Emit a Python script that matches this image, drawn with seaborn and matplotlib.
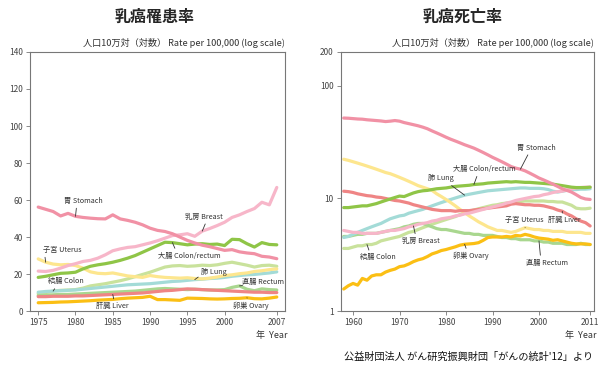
import numpy as np
import pandas as pd
import matplotlib
matplotlib.use("Agg")
import matplotlib.pyplot as plt
import seaborn as sns

sns.set_theme(style="white")
plt.rcParams["font.family"] = ["Noto Sans CJK JP", "DejaVu Sans"]

# ---- incidence (left), 1975-2007 ----
years_inc = list(range(1975, 2008))
stomach_inc = [56.2, 55.0, 53.8, 51.4, 52.8, 51.2, 50.6, 50.2, 49.9, 49.8, 52.0, 49.8, 49.0, 48.0, 46.6, 44.8,
               43.6, 43.0, 41.8, 40.0, 38.2, 36.8, 35.6, 34.8, 33.8, 32.8, 33.2, 32.0, 31.4, 31.0, 29.6, 29.2, 28.3]
breast_inc = [21.6, 21.4, 22.0, 23.2, 24.6, 25.6, 26.8, 27.4, 28.6, 30.4, 32.6, 33.6, 34.4, 34.8, 35.8, 36.8,
              38.0, 39.4, 40.8, 41.2, 41.8, 40.4, 43.2, 44.6, 46.2, 48.0, 50.6, 52.0, 53.8, 55.4, 58.8, 57.4, 66.8]
colrec_inc = [18.2, 18.8, 19.6, 20.4, 20.6, 21.0, 22.8, 24.2, 25.0, 25.6, 26.4, 27.4, 28.6, 30.0, 31.8, 33.6,
              35.4, 37.2, 37.0, 36.4, 35.8, 36.2, 36.4, 36.0, 36.2, 35.4, 38.8, 38.6, 36.4, 34.6, 37.0, 36.0, 35.8]
uterus_inc = [28.2, 26.4, 25.4, 25.0, 25.2, 24.6, 23.2, 21.2, 20.4, 20.2, 20.6, 19.8, 19.0, 18.6, 18.2, 19.2,
              18.6, 18.2, 18.0, 17.8, 18.0, 17.6, 17.4, 17.8, 18.4, 19.2, 19.6, 20.2, 20.6, 21.4, 21.8, 22.4, 22.8]
colon_inc = [9.4, 10.0, 10.8, 11.2, 11.4, 11.6, 12.4, 13.6, 14.2, 14.8, 15.6, 16.4, 17.4, 18.6, 19.8, 21.0,
             22.4, 23.8, 24.4, 24.6, 24.2, 24.4, 24.8, 24.6, 25.0, 25.8, 26.4, 25.6, 24.8, 23.8, 24.6, 24.8, 24.2]
lung_inc = [10.2, 10.6, 10.8, 11.0, 11.2, 11.4, 11.8, 12.2, 12.6, 13.0, 13.4, 13.8, 14.2, 14.4, 14.6, 14.8,
            15.2, 15.6, 16.0, 16.2, 16.6, 17.0, 17.2, 17.6, 17.8, 18.2, 18.8, 19.2, 19.6, 19.8, 20.2, 20.6, 21.2]
rectum_inc = [8.4, 8.6, 8.8, 9.0, 9.0, 9.2, 9.4, 9.6, 9.8, 10.0, 10.2, 10.4, 10.6, 10.8, 11.2, 11.6,
              12.0, 12.2, 12.0, 11.8, 11.6, 11.8, 11.6, 11.4, 11.4, 11.6, 12.8, 13.6, 11.8, 11.0, 12.0, 11.6, 11.4]
liver_inc = [7.8, 7.8, 8.0, 8.0, 8.0, 8.2, 8.2, 8.4, 8.6, 8.8, 9.0, 9.2, 9.4, 9.6, 9.8, 10.2,
             10.6, 11.0, 11.2, 11.6, 12.0, 11.8, 11.6, 11.4, 11.2, 11.0, 10.8, 10.6, 10.4, 10.2, 10.2, 10.0, 10.0]
ovary_inc = [4.5, 4.6, 4.7, 4.9, 5.0, 5.2, 5.4, 5.6, 5.9, 6.1, 6.3, 6.7, 7.0, 7.2, 7.4, 8.0,
             6.2, 6.2, 6.0, 5.8, 7.0, 6.9, 6.8, 6.6, 6.5, 6.6, 6.8, 6.9, 7.2, 6.7, 6.6, 7.0, 7.6]

# ---- mortality (right), 1958-2011 ----
years_mort = list(range(1958, 2012))
stomach_mort = [51.8, 51.6, 51.2, 50.8, 50.6, 50.0, 49.6, 49.2, 48.8, 48.2, 48.6, 49.2, 48.6, 47.2, 46.2, 45.2,
                44.2, 43.0, 41.6, 39.8, 38.2, 36.6, 35.0, 33.6, 32.4, 31.2, 30.0, 29.0, 28.0, 26.8, 25.6, 24.4,
                23.2, 22.2, 21.2, 20.2, 19.2, 18.6, 18.2, 17.6, 16.8, 16.0, 15.2, 14.6, 14.0, 13.4, 12.8, 12.2,
                11.8, 11.4, 10.8, 10.2, 9.9, 9.8]
uterus_mort = [22.3, 21.8, 21.2, 20.6, 20.0, 19.4, 18.8, 18.2, 17.6, 17.0, 16.6, 16.0, 15.4, 14.8, 14.2, 13.6,
               13.0, 12.6, 12.2, 11.8, 11.0, 10.4, 9.8, 9.2, 8.6, 8.0, 7.5, 7.0, 6.6, 6.2, 5.9, 5.6,
               5.4, 5.2, 5.2, 5.1, 5.0, 5.1, 5.3, 5.5, 5.4, 5.3, 5.3, 5.2, 5.2, 5.1, 5.1, 5.1,
               5.0, 5.0, 5.0, 5.0, 4.9, 4.9]
colrec_mort = [8.3, 8.3, 8.4, 8.5, 8.6, 8.6, 8.8, 9.0, 9.3, 9.6, 9.9, 10.2, 10.5, 10.4, 10.8, 11.2,
               11.5, 11.7, 11.8, 12.0, 12.2, 12.3, 12.4, 12.6, 12.8, 12.9, 13.0, 13.1, 13.3, 13.4, 13.5, 13.7,
               13.8, 13.9, 14.0, 14.1, 14.0, 14.1, 14.0, 13.9, 13.9, 13.8, 13.7, 13.6, 13.5, 13.4, 13.2, 13.0,
               12.8, 12.6, 12.5, 12.5, 12.5, 12.6]
lung_mort = [4.5, 4.6, 4.8, 5.0, 5.2, 5.4, 5.6, 5.8, 6.0, 6.3, 6.6, 6.8, 7.0, 7.1, 7.4, 7.6,
             7.8, 8.0, 8.3, 8.6, 8.9, 9.2, 9.5, 9.8, 10.1, 10.4, 10.7, 10.9, 11.1, 11.3, 11.5, 11.7,
             11.8, 11.9, 12.0, 12.1, 12.2, 12.3, 12.4, 12.4, 12.3, 12.3, 12.3, 12.2, 12.0, 11.6, 11.4, 11.6,
             11.8, 12.0, 12.0, 12.1, 12.1, 12.2]
breast_mort = [5.2, 5.1, 5.0, 5.0, 4.9, 4.9, 4.9, 4.9, 5.0, 5.1, 5.2, 5.2, 5.3, 5.4, 5.6, 5.7,
               5.9, 6.0, 6.1, 6.3, 6.4, 6.6, 6.7, 6.8, 7.0, 7.1, 7.3, 7.4, 7.6, 7.8, 8.0, 8.2,
               8.4, 8.6, 8.8, 9.1, 9.3, 9.6, 9.8, 10.0, 10.2, 10.4, 10.5, 10.8, 11.0, 11.3, 11.5, 11.6,
               11.9, 12.2, 12.4, 12.5, 12.6, 12.6]
liver_mort = [11.6, 11.5, 11.3, 11.0, 10.8, 10.6, 10.5, 10.3, 10.2, 10.0, 9.8, 9.6, 9.5, 9.3, 9.1, 8.8,
              8.6, 8.4, 8.2, 8.0, 7.9, 7.8, 7.8, 7.8, 7.7, 7.8, 7.8, 7.8, 7.9, 8.0, 8.1, 8.2,
              8.3, 8.4, 8.5, 8.6, 8.9, 9.0, 8.9, 8.8, 8.8, 8.7, 8.7, 8.6, 8.4, 8.2, 7.9, 7.7,
              7.3, 7.0, 6.6, 6.3, 6.1, 5.7]
colon_mort = [3.6, 3.6, 3.7, 3.8, 3.8, 3.9, 3.9, 4.0, 4.2, 4.3, 4.4, 4.5, 4.6, 4.8, 5.0, 5.1,
              5.3, 5.5, 5.7, 5.9, 6.1, 6.3, 6.5, 6.7, 6.9, 7.2, 7.4, 7.7, 7.9, 8.1, 8.3, 8.5,
              8.7, 8.8, 9.0, 9.1, 9.2, 9.3, 9.4, 9.5, 9.5, 9.5, 9.5, 9.5, 9.4, 9.4, 9.3, 9.3,
              9.0, 8.7, 8.2, 8.1, 8.1, 8.2]
rectum_mort = [4.6, 4.6, 4.7, 4.8, 4.8, 4.9, 4.9, 4.9, 5.0, 5.1, 5.2, 5.3, 5.4, 5.6, 5.7, 5.9,
               6.0, 6.0, 5.8, 5.6, 5.4, 5.3, 5.3, 5.2, 5.1, 5.0, 4.9, 4.9, 4.8, 4.8, 4.7, 4.7,
               4.7, 4.6, 4.5, 4.5, 4.4, 4.4, 4.3, 4.3, 4.3, 4.2, 4.2, 4.1, 4.1, 4.0, 4.0, 4.0,
               3.9, 3.9, 3.9, 4.0, 3.9, 3.9]
ovary_mort = [1.57, 1.68, 1.76, 1.70, 1.95, 1.88, 2.05, 2.10, 2.10, 2.22, 2.30, 2.36, 2.48, 2.52, 2.62, 2.75,
              2.85, 2.92, 3.05, 3.22, 3.32, 3.45, 3.52, 3.62, 3.72, 3.85, 3.92, 3.95, 3.98, 4.05, 4.25, 4.50,
              4.55, 4.55, 4.55, 4.60, 4.55, 4.70, 4.65, 4.80, 4.70, 4.55, 4.45, 4.40, 4.35, 4.25, 4.30, 4.20,
              4.10, 4.00, 3.95, 3.95, 3.95, 3.90]

sites = ["colon", "rectum", "lung", "uterus", "liver", "breast", "colrec", "stomach", "ovary"]
colors = {"stomach": "#f191a5", "breast": "#f7b6c9", "colrec": "#8fc547", "uterus": "#fde68e",
          "colon": "#c9e29c", "lung": "#a3dbd7", "rectum": "#a9d78f", "liver": "#ef8585", "ovary": "#fbbf14"}

inc = {"stomach": stomach_inc, "breast": breast_inc, "colrec": colrec_inc, "uterus": uterus_inc,
       "colon": colon_inc, "lung": lung_inc, "rectum": rectum_inc, "liver": liver_inc, "ovary": ovary_inc}
mort = {"stomach": stomach_mort, "breast": breast_mort, "colrec": colrec_mort, "uterus": uterus_mort,
        "colon": colon_mort, "lung": lung_mort, "rectum": rectum_mort, "liver": liver_mort, "ovary": ovary_mort}


def long_df(years, d):
    rows = []
    for s in sites:
        for y, v in zip(years, d[s]):
            rows.append((s, y, v))
    return pd.DataFrame(rows, columns=["site", "year", "rate"])


fig = plt.figure(figsize=(6.15, 3.85), dpi=100)
ax1 = fig.add_axes([0.0488, 0.192, 0.4146, 0.673])
ax2 = fig.add_axes([0.554, 0.192, 0.412, 0.673])

for ax, years, d in [(ax1, years_inc, inc), (ax2, years_mort, mort)]:
    sns.lineplot(data=long_df(years, d), x="year", y="rate", hue="site", hue_order=sites,
                 palette=colors, linewidth=2.3, legend=False, ax=ax)
    ax.set_xlabel("")
    ax.set_ylabel("")
    for sp in ax.spines.values():
        sp.set_color("#777777")
        sp.set_linewidth(0.8)
    ax.tick_params(axis="both", which="major", direction="out", length=3, width=0.6,
                   color="#777777", labelsize=6, labelcolor="#444444", pad=2,
                   bottom=True, left=True)
    ax.text(1.0, 1.015, "人口10万対（対数） Rate per 100,000 (log scale)", transform=ax.transAxes,
            ha="right", va="bottom", fontsize=6.6, color="#333333")
    ax.text(1.01, -0.075, "年  Year", transform=ax.transAxes, ha="right", va="top",
            fontsize=6.5, color="#333333")

# left axis
ax1.set_xlim(1973.9, 2008.1)
ax1.set_ylim(0, 140)
ax1.set_xticks([1975, 1980, 1985, 1990, 1995, 2000, 2007])
ax1.set_yticks(range(0, 141, 20))

# right axis
ax2.set_yscale("log")
ax2.set_xlim(1957.35, 2011.85)
ax2.set_ylim(1, 200)
ax2.set_xticks([1960, 1970, 1980, 1990, 2000, 2011])
ax2.set_yticks([1, 10, 100, 200])
ax2.set_yticklabels(["1", "10", "100", "200"])
ax2.yaxis.set_minor_locator(matplotlib.ticker.NullLocator())

fig.text(0.252, 0.955, "乳癌罹患率", ha="center", va="center", fontsize=11.5, fontweight="bold")
fig.text(0.752, 0.955, "乳癌死亡率", ha="center", va="center", fontsize=11.5, fontweight="bold")
fig.text(0.965, 0.073, "公益財団法人 がん研究振興財団「がんの統計'12」より", ha="right", va="center",
         fontsize=7.3, color="#111111")


def label(ax, text, tx, ty, site, year, years, d, rel):
    y = d[site][years.index(year)]
    ax.annotate(text, xy=(year, y), xytext=(tx, ty), textcoords="data", fontsize=5.2,
                color="#333333", ha="left", va="center",
                arrowprops=dict(arrowstyle="-", color="#333333", lw=0.6, relpos=rel,
                                shrinkA=0, shrinkB=0))


# left labels
label(ax1, "胃 Stomach", 1978.5, 59.5, "stomach", 1980, years_inc, inc, (0.32, 0))
label(ax1, "乳房 Breast", 1994.7, 51, "breast", 1997, years_inc, inc, (0.57, 0))
label(ax1, "大腸 Colon/rectum", 1991.0, 30, "colrec", 1993, years_inc, inc, (0.3, 1))
label(ax1, "子宮 Uterus", 1975.6, 33, "uterus", 1976, years_inc, inc, (0.05, 0))
label(ax1, "結腸 Colon", 1976.3, 16, "colon", 1977, years_inc, inc, (0.25, 0))
label(ax1, "肺 Lung", 1996.9, 21, "lung", 1996, years_inc, inc, (0, 0.2))
label(ax1, "直腸 Rectum", 2002.4, 15.5, "rectum", 2002, years_inc, inc, (0, 0.1))
label(ax1, "肝臓 Liver", 1982.8, 2.7, "liver", 1985, years_inc, inc, (0.55, 1))
label(ax1, "卵巣 Ovary", 2001.1, 3.0, "ovary", 2003, years_inc, inc, (0.45, 1))

# right labels
label(ax2, "胃 Stomach", 1995.3, 28.3, "stomach", 1996, years_mort, mort, (0.32, 0))
label(ax2, "大腸 Colon/rectum", 1981.5, 18.2, "colrec", 1986, years_mort, mort, (0.4, 0))
label(ax2, "肺 Lung", 1976.1, 15.1, "lung", 1984, years_mort, mort, (0.75, 0))
label(ax2, "子宮 Uterus", 1992.7, 6.4, "uterus", 1997, years_mort, mort, (0.6, 0))
label(ax2, "肝臓 Liver", 2001.9, 6.4, "liver", 2005, years_mort, mort, (0.45, 1))
label(ax2, "乳房 Breast", 1970.5, 4.2, "breast", 1973, years_mort, mort, (0.37, 1))
label(ax2, "結腸 Colon", 1961.5, 3.0, "colon", 1963, years_mort, mort, (0.28, 1))
label(ax2, "卵巣 Ovary", 1981.5, 3.1, "ovary", 1984, years_mort, mort, (0.4, 1))
label(ax2, "直腸 Rectum", 1997.2, 2.7, "rectum", 2000, years_mort, mort, (0.35, 1))

fig.savefig("out.png", dpi=100)
